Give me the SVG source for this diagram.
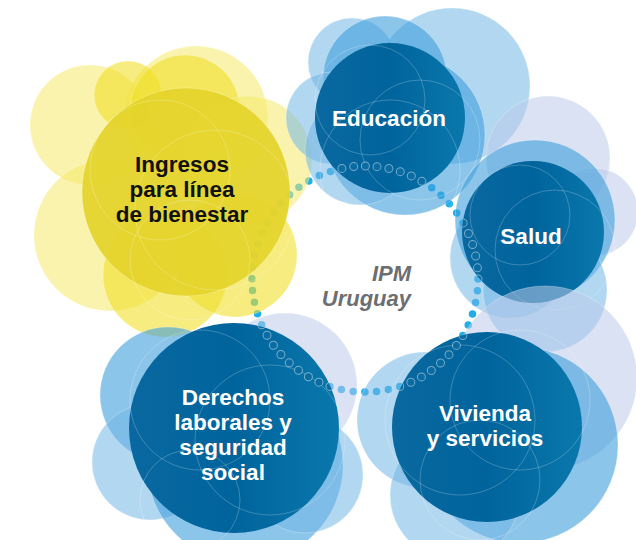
<svg xmlns="http://www.w3.org/2000/svg" width="636" height="540" viewBox="0 0 636 540">
<defs>
<style>
.lb{fill:#3f9fdc;fill-opacity:.6;stroke:#fff;stroke-opacity:.35;stroke-width:.8}
.pb{fill:#73b6e6;fill-opacity:.55;stroke:#fff;stroke-opacity:.35;stroke-width:.8}
.lv{fill:#bccbea;fill-opacity:.55;stroke:#fff;stroke-opacity:.35;stroke-width:.8}
.dk{fill:url(#dg)}
.ln{fill:none;stroke:#fff;stroke-opacity:.28;stroke-width:.8}
.y1{fill:#f0df2a;fill-opacity:.6;stroke:#fff;stroke-opacity:.3;stroke-width:.8}
.y2{fill:#f5ea6a;fill-opacity:.55;stroke:#fff;stroke-opacity:.3;stroke-width:.8}
.yd{fill:#e4d42a;fill-opacity:.92;stroke:#fff;stroke-opacity:.3;stroke-width:.8}
.wt{font-family:"Liberation Sans",Arial,sans-serif;font-weight:bold;font-size:22.5px;fill:#fff;text-anchor:middle}
.bt{font-family:"Liberation Sans",Arial,sans-serif;font-weight:bold;font-size:22.5px;fill:#111;text-anchor:middle}
.gt{font-family:"Liberation Sans",Arial,sans-serif;font-weight:bold;font-style:italic;font-size:22px;fill:#6d6e71;text-anchor:end}
</style>
<linearGradient id="dg" x1="0" y1="0" x2="1" y2="0">
<stop offset="0" stop-color="#0a68a0"/>
<stop offset="0.5" stop-color="#00649c"/>
<stop offset="1" stop-color="#0a78ac"/>
</linearGradient>
<clipPath id="darks">
<circle cx="390" cy="118" r="75"/>
<circle cx="533" cy="232" r="71"/>
<circle cx="487" cy="427" r="95"/>
<circle cx="234" cy="428" r="105"/>
</clipPath>
</defs>
<rect width="636" height="540" fill="#fff"/>

<g id="connectors">
<circle cx="365" cy="279" r="113" fill="none" stroke="#1eaeea" stroke-width="7.5" stroke-linecap="round" stroke-dasharray="0 11.83"/>
</g>

<g id="ingresos">
<circle class="y2" cx="196" cy="118" r="72"/>
<circle class="y2" cx="90" cy="125" r="60"/>
<circle class="y1" cx="128" cy="95" r="34"/>
<circle class="y1" cx="185" cy="110" r="55"/>
<circle class="y2" cx="248" cy="160" r="64"/>
<circle class="y2" cx="110" cy="235" r="76"/>
<circle class="y1" cx="165" cy="275" r="62"/>
<circle class="y1" cx="235" cy="255" r="62"/>
<circle class="yd" cx="186" cy="192" r="104"/>
<circle class="ln" cx="160" cy="170" r="70"/>
<circle class="ln" cx="215" cy="210" r="80"/>
<circle class="ln" cx="190" cy="260" r="60"/>
<text class="bt" x="182" y="172">Ingresos</text>
<text class="bt" x="182" y="197">para línea</text>
<text class="bt" x="182" y="222">de bienestar</text>
</g>

<g id="educacion">
<circle class="pb" cx="452" cy="86" r="78"/>
<circle class="pb" cx="352" cy="62" r="44"/>
<circle class="lb" cx="385" cy="78" r="62"/>
<circle class="pb" cx="332" cy="118" r="46"/>
<circle class="lb" cx="405" cy="135" r="80"/>
<circle class="pb" cx="360" cy="150" r="55"/>
<circle class="dk" cx="390" cy="118" r="75"/>
<circle class="ln" cx="370" cy="100" r="55"/>
<circle class="ln" cx="420" cy="140" r="60"/>
<circle class="ln" cx="390" cy="170" r="70"/>
<text class="wt" x="389" y="126">Educación</text>
</g>

<g id="salud">
<circle class="lv" cx="548" cy="158" r="62"/>
<circle class="lv" cx="594" cy="212" r="44"/>
<circle class="pb" cx="510" cy="258" r="60"/>
<circle class="lb" cx="535" cy="220" r="80"/>
<circle class="pb" cx="545" cy="290" r="62"/>
<circle class="dk" cx="533" cy="232" r="71"/>
<circle class="ln" cx="520" cy="215" r="50"/>
<circle class="ln" cx="555" cy="250" r="60"/>
<text class="wt" x="531" y="244">Salud</text>
</g>

<g id="vivienda">
<circle class="lv" cx="545" cy="378" r="92"/>
<circle class="pb" cx="425" cy="420" r="68"/>
<circle class="lb" cx="520" cy="445" r="98"/>
<circle class="pb" cx="455" cy="495" r="65"/>
<circle class="dk" cx="487" cy="427" r="95"/>
<circle class="ln" cx="460" cy="420" r="75"/>
<circle class="ln" cx="520" cy="400" r="70"/>
<circle class="ln" cx="480" cy="480" r="60"/>
<text class="wt" x="485" y="421">Vivienda</text>
<text class="wt" x="485" y="446">y servicios</text>
</g>

<g id="derechos">
<circle class="lv" cx="285" cy="385" r="72"/>
<circle class="lb" cx="168" cy="395" r="68"/>
<circle class="pb" cx="150" cy="462" r="58"/>
<circle class="lb" cx="245" cy="465" r="98"/>
<circle class="pb" cx="305" cy="475" r="58"/>
<circle class="dk" cx="234" cy="428" r="105"/>
<circle class="ln" cx="200" cy="400" r="70"/>
<circle class="ln" cx="270" cy="440" r="75"/>
<circle class="ln" cx="190" cy="500" r="50"/>
<text class="wt" x="233" y="405">Derechos</text>
<text class="wt" x="233" y="430">laborales y</text>
<text class="wt" x="233" y="455">seguridad</text>
<text class="wt" x="233" y="480">social</text>
</g>

<g id="ring-overlay" clip-path="url(#darks)">
<circle cx="365" cy="279" r="113" fill="none" stroke="#fff" stroke-opacity=".45" stroke-width="9" stroke-linecap="round" stroke-dasharray="0 11.83"/>
<circle cx="365" cy="279" r="113" fill="none" stroke="#0a6ca2" stroke-width="7" stroke-linecap="round" stroke-dasharray="0 11.83"/>
</g>

<g id="ipm">
<text class="gt" x="411" y="281">IPM</text>
<text class="gt" x="411" y="306">Uruguay</text>
</g>
</svg>
